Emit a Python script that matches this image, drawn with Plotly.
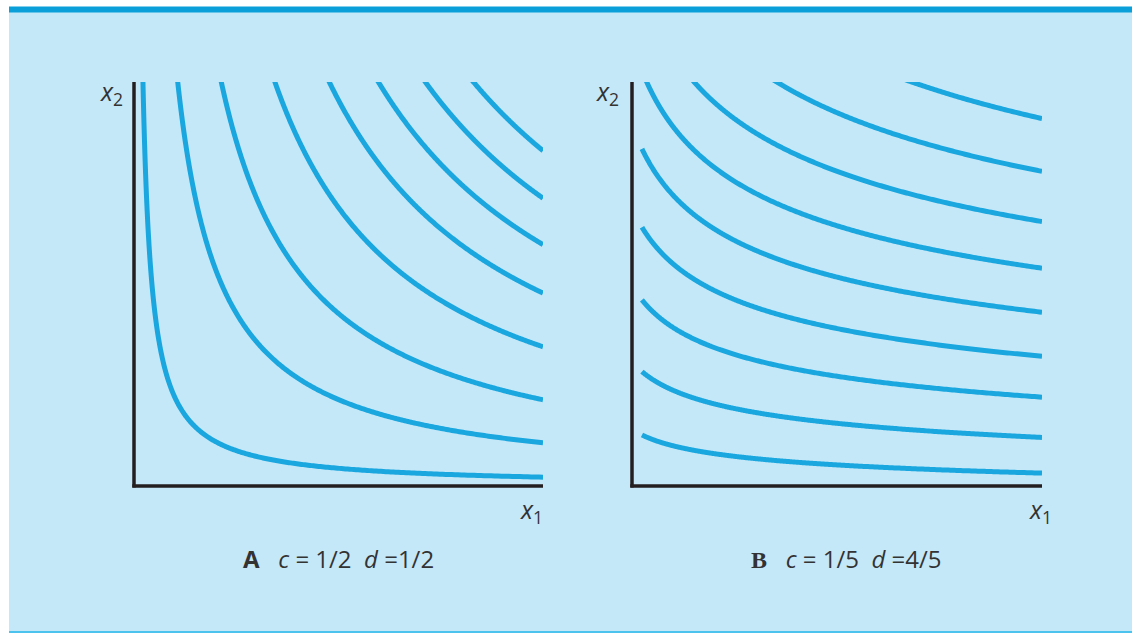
import numpy as np
import plotly.graph_objects as go

W, H = 1132, 633

# ---- data ----
# Panel A: Cobb-Douglas x1^c * x2^d = u, c = 1/2, d = 1/2
c_A, d_A = 0.5, 0.5
levels_A = [1.48, 3.27, 4.62, 5.87, 6.91, 7.73, 8.44, 9.11]
# Panel B: c = 1/5, d = 4/5
c_B, d_B = 0.2, 0.8
levels_B = [1.727, 2.674, 3.652, 4.58, 5.53, 6.44, 7.37, 8.34, 9.33]
caption_A = "<b>A</b>&nbsp;&nbsp; <i>c</i> = 1/2&nbsp; <i>d</i> =1/2"
caption_B = ("<span style='font-family:Liberation Serif'><b>B</b></span>&nbsp;&nbsp; "
             "<i>c</i> = 1/5&nbsp; <i>d</i> =4/5")

CURVE = "#1aa6de"
BG = "#c5e8f9"
INK = "#231f20"


def px(x):
    return x / W


def py(y):
    return 1 - y / H


fig = go.Figure()

# Panel A curves
for u in levels_A:
    x_start = (u / 10.5 ** d_A) ** (1 / c_A)
    x1 = np.geomspace(x_start, 10, 400)
    x2 = (u / x1 ** c_A) ** (1 / d_A)
    fig.add_trace(go.Scatter(x=x1, y=x2, mode="lines",
                             line=dict(color=CURVE, width=5, simplify=False),
                             xaxis="x", yaxis="y", hoverinfo="skip", showlegend=False))

# Panel B curves
for u in levels_B:
    x1 = np.geomspace(1, 10, 400)
    x2 = (u / x1 ** c_B) ** (1 / d_B)
    fig.add_trace(go.Scatter(x=x1, y=x2, mode="lines",
                             line=dict(color=CURVE, width=5, simplify=False),
                             xaxis="x2", yaxis="y2", hoverinfo="skip", showlegend=False))

ax_common = dict(showgrid=False, zeroline=False, showticklabels=False, ticks="",
                 showline=False, fixedrange=True)

fig.update_layout(
    width=W, height=H,
    margin=dict(l=0, r=0, t=0, b=0),
    paper_bgcolor="white",
    plot_bgcolor="rgba(0,0,0,0)",
    xaxis=dict(domain=[px(134), px(543)], range=[0, 10], anchor="y", **ax_common),
    yaxis=dict(domain=[py(486), py(82)], range=[0, 10], anchor="x", **ax_common),
    xaxis2=dict(domain=[px(632), px(1042)], range=[0.776, 10], anchor="y2", **ax_common),
    yaxis2=dict(domain=[py(486), py(82)], range=[0.82, 10], anchor="x2", **ax_common),
    showlegend=False,
)

shapes = [
    # light blue panel
    dict(type="rect", xref="paper", yref="paper", x0=px(9), x1=1, y0=py(631), y1=py(7),
         fillcolor=BG, line=dict(width=0), layer="below"),
    # top bar
    dict(type="rect", xref="paper", yref="paper", x0=px(9), x1=1, y0=py(12.5), y1=py(6.5),
         fillcolor="#0b9fda", line=dict(width=0), layer="below"),
    # bottom line
    dict(type="rect", xref="paper", yref="paper", x0=px(9), x1=1, y0=py(633), y1=py(631),
         fillcolor="#4cc2ee", line=dict(width=0), layer="below"),
    # Axes A
    dict(type="line", xref="paper", yref="paper", x0=px(134), x1=px(134), y0=py(487.5), y1=py(82),
         line=dict(color=INK, width=3.5)),
    dict(type="line", xref="paper", yref="paper", x0=px(132.3), x1=px(543), y0=py(486), y1=py(486),
         line=dict(color=INK, width=3.5)),
    # Axes B
    dict(type="line", xref="paper", yref="paper", x0=px(632), x1=px(632), y0=py(487.5), y1=py(82),
         line=dict(color=INK, width=3.5)),
    dict(type="line", xref="paper", yref="paper", x0=px(630.3), x1=px(1042), y0=py(486), y1=py(486),
         line=dict(color=INK, width=3.5)),
]
fig.update_layout(shapes=shapes)

FONT = "Open Sans"
ann = []


def label(text, x, y, xanchor="center", yanchor="middle", size=20):
    ann.append(dict(text=text, x=px(x), y=py(y), xref="paper", yref="paper",
                    xanchor=xanchor, yanchor=yanchor, showarrow=False,
                    font=dict(family=FONT, size=size, color="#333333")))


label("<i>x</i><sub>2</sub>", 125, 93, xanchor="right", size=25)
label("<i>x</i><sub>1</sub>", 545, 510, xanchor="right", size=25)
label("<i>x</i><sub>2</sub>", 621, 93, xanchor="right", size=25)
label("<i>x</i><sub>1</sub>", 1054, 510, xanchor="right", size=25)
label(caption_A, 338, 558, size=24)
label(caption_B, 846, 558, size=24)

fig.update_layout(annotations=ann)

fig.write_html(
    "out.html",
    config={"displayModeBar": False},
    post_script="document.body.style.margin='0';document.body.style.overflow='hidden';",
)
